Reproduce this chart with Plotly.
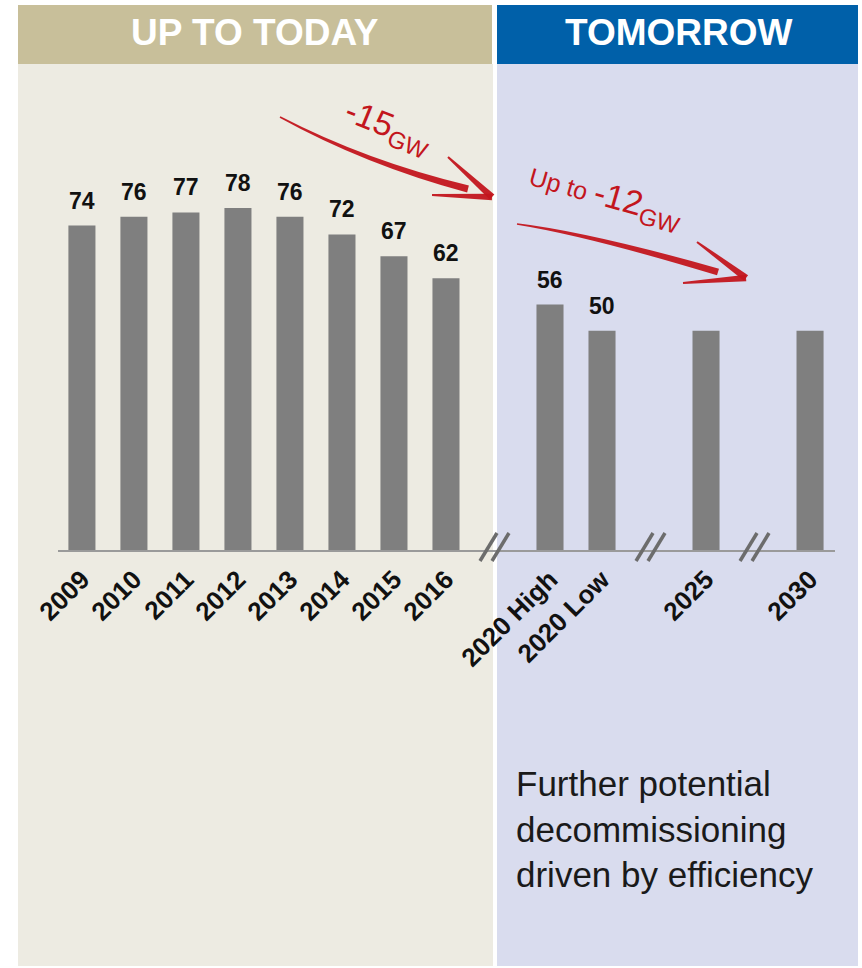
import plotly.graph_objects as go

# ---------------- data ----------------
periods = ["2009", "2010", "2011", "2012", "2013", "2014", "2015", "2016",
           "2020 High", "2020 Low", "2025", "2030"]
capacity_gw = [74, 76, 77, 78, 76, 72, 67, 62, 56, 50, 50, 50]
value_labels = ["74", "76", "77", "78", "76", "72", "67", "62", "56", "50", "", ""]
period_group = [0, 0, 0, 0, 0, 0, 0, 0, 1, 1, 2, 3]   # groups separated by axis breaks
header_left = "UP TO TODAY"
header_right = "TOMORROW"
note_text = "Further potential<br>decommissioning<br>driven by efficiency"

# positions: one empty slot between groups (where the break marks go)
positions = [i + g for i, g in enumerate(period_group)]
break_positions = [positions[i] - 1 for i in range(1, len(positions))
                   if period_group[i] != period_group[i - 1]]

# ---------------- layout geometry (pixels) ----------------
W, H = 862, 968
L, R, T, B = 58, 835, 70, 550
XRANGE = [-0.46, 14.48]


def px(x):
    return (x - L) / (R - L)


def py(y):
    return (B - y) / (B - T)


def data_to_px(v):
    return L + (v - XRANGE[0]) / (XRANGE[1] - XRANGE[0]) * (R - L)


FONT = "Liberation Sans, Arial, sans-serif"
RED = "#C3161D"
GREY_BAR = "#7F7F7F"

fig = go.Figure()
fig.add_trace(go.Bar(
    x=positions, y=capacity_gw, width=0.52,
    marker=dict(color=GREY_BAR, line=dict(width=0)),
    hoverinfo="x+y", showlegend=False,
))

shapes = []
# panels
shapes.append(dict(type="rect", xref="paper", yref="paper", layer="below",
                   x0=px(18), x1=px(493), y0=py(966), y1=py(64),
                   fillcolor="#EDEBE2", line=dict(width=0)))
shapes.append(dict(type="rect", xref="paper", yref="paper", layer="below",
                   x0=px(18), x1=px(492), y0=py(64), y1=py(5),
                   fillcolor="#C8BF9A", line=dict(width=0)))
shapes.append(dict(type="rect", xref="paper", yref="paper", layer="below",
                   x0=px(497), x1=px(858), y0=py(966), y1=py(64),
                   fillcolor="#D9DCEE", line=dict(width=0)))
shapes.append(dict(type="rect", xref="paper", yref="paper", layer="below",
                   x0=px(497), x1=px(858), y0=py(64), y1=py(5),
                   fillcolor="#0060A9", line=dict(width=0)))


def pt(x, y):
    return f"{px(x):.5f},{py(y):.5f}"


def unit_normal(p0, p1):
    dx, dy = p1[0] - p0[0], p1[1] - p0[1]
    n = (dx * dx + dy * dy) ** 0.5
    return (-dy / n, dx / n)


def brush_curve(s, m, e, w0, w1):
    # quadratic curve through midpoint m, tapered width w0 -> w1
    c = (2 * m[0] - 0.5 * (s[0] + e[0]), 2 * m[1] - 0.5 * (s[1] + e[1]))
    ns = unit_normal(s, c)
    ne = unit_normal(c, e)
    nc = unit_normal(s, e)
    wc = (w0 + w1) / 2
    s1 = (s[0] + ns[0] * w0 / 2, s[1] + ns[1] * w0 / 2)
    s2 = (s[0] - ns[0] * w0 / 2, s[1] - ns[1] * w0 / 2)
    e1 = (e[0] + ne[0] * w1 / 2, e[1] + ne[1] * w1 / 2)
    e2 = (e[0] - ne[0] * w1 / 2, e[1] - ne[1] * w1 / 2)
    c1 = (c[0] + nc[0] * wc / 2, c[1] + nc[1] * wc / 2)
    c2 = (c[0] - nc[0] * wc / 2, c[1] - nc[1] * wc / 2)
    return (f"M {pt(*s1)} Q {pt(*c1)} {pt(*e1)} L {pt(*e2)} "
            f"Q {pt(*c2)} {pt(*s2)} Z")


def brush_line(p0, p1, w0, w1):
    n = unit_normal(p0, p1)
    a = (p0[0] + n[0] * w0 / 2, p0[1] + n[1] * w0 / 2)
    b = (p1[0] + n[0] * w1 / 2, p1[1] + n[1] * w1 / 2)
    c = (p1[0] - n[0] * w1 / 2, p1[1] - n[1] * w1 / 2)
    d = (p0[0] - n[0] * w0 / 2, p0[1] - n[1] * w0 / 2)
    return f"M {pt(*a)} L {pt(*b)} L {pt(*c)} L {pt(*d)} Z"


arrows = [
    dict(s=(280, 117), m=(370, 158), e=(468, 189), tip=(492, 197),
         up=(448, 157), lo=(432, 195)),
    dict(s=(517, 224), m=(603, 241), e=(718, 272), tip=(746, 278),
         up=(697, 242), lo=(683, 283)),
]
for a in arrows:
    for path in (brush_curve(a["s"], a["m"], a["e"], 1.5, 7.0),
                 brush_line(a["up"], a["tip"], 2.0, 7.0),
                 brush_line(a["lo"], a["tip"], 2.0, 6.5)):
        shapes.append(dict(type="path", xref="paper", yref="paper", path=path,
                           fillcolor=RED, line=dict(width=0), opacity=0.95))

# axis break marks (two slanted strokes at each break)
for bp in break_positions:
    cx = data_to_px(bp) - 3
    for off in (-9, 3):
        shapes.append(dict(type="line", xref="paper", yref="paper",
                           x0=px(cx + off - 6), y0=py(561),
                           x1=px(cx + off + 11), y1=py(533),
                           line=dict(color="#6C6C6C", width=3.5)))

annotations = []
# headers
for txt, xc in ((header_left, 255), (header_right, 679)):
    annotations.append(dict(xref="paper", yref="paper", x=px(xc), y=py(32),
                            xanchor="center", yanchor="middle",
                            text=txt, showarrow=False,
                            font=dict(family=FONT, size=37, color="white",
                                      weight="bold")))
# value labels
for xpos, val, lab in zip(positions, capacity_gw, value_labels):
    if lab:
        annotations.append(dict(x=xpos, y=val, xref="x", yref="y", text=lab,
                                showarrow=False, yanchor="bottom", yshift=10,
                                font=dict(family=FONT, size=23, color="#111111",
                                          weight="bold")))
# arrow texts
annotations.append(dict(xref="paper", yref="paper", x=px(388), y=py(127),
                        xanchor="center", yanchor="middle",
                        text="-15<sub>GW</sub>", showarrow=False, textangle=22,
                        font=dict(family=FONT, size=34, color=RED)))
annotations.append(dict(xref="paper", yref="paper", x=px(605), y=py(197),
                        xanchor="center", yanchor="middle",
                        text='<span style="font-size:25px">Up to </span>-12<sub>GW</sub>',
                        showarrow=False, textangle=16,
                        font=dict(family=FONT, size=34, color=RED)))
# note
annotations.append(dict(xref="paper", yref="paper", x=px(514), y=py(762),
                        text=note_text, showarrow=False, align="left",
                        xanchor="left", yanchor="top",
                        font=dict(family=FONT, size=35, color="#1A1A1A")))

fig.update_layout(
    width=W, height=H,
    margin=dict(l=L, r=W - R, t=T, b=H - B, pad=0),
    paper_bgcolor="white", plot_bgcolor="rgba(0,0,0,0)",
    shapes=shapes, annotations=annotations,
    bargap=0.5, showlegend=False,
    xaxis=dict(range=XRANGE, tickvals=positions, ticktext=periods,
               tickangle=-45, showgrid=False, zeroline=False,
               showline=True, linecolor="#9A9A9A", linewidth=2,
               ticks="", ticklabelstandoff=2,
               tickfont=dict(family=FONT, size=26, color="#111111", weight="bold"),
               fixedrange=True),
    yaxis=dict(range=[0, 109.5], visible=False, fixedrange=True),
)

fig.write_html("out.html")
